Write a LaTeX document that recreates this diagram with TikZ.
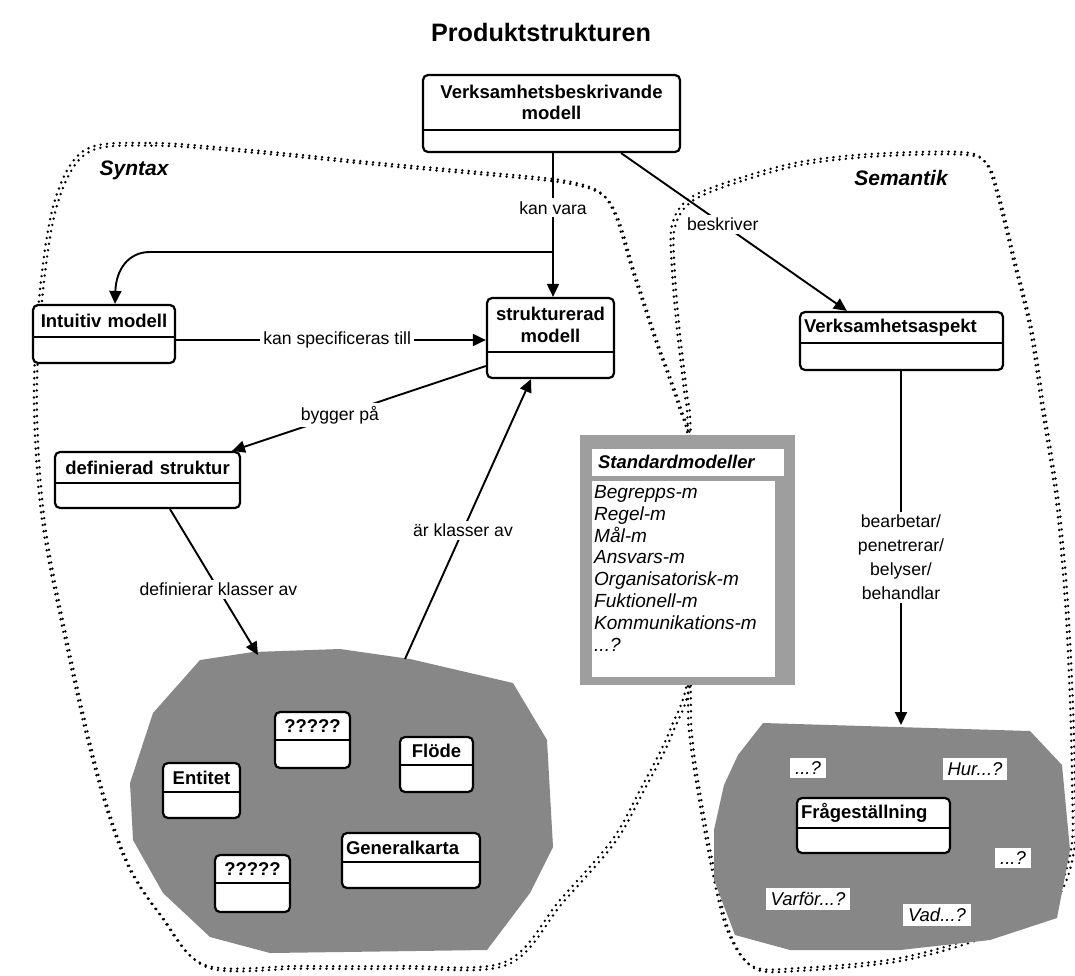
\documentclass[tikz,border=0pt]{standalone}
\usepackage{fontspec}
\setmainfont{Liberation Sans}
\usetikzlibrary{arrows.meta,fit,calc}

\tikzset{
  kbox/.style={draw=black, fill=white, rounded corners=5pt, line width=2.2pt, inner sep=0pt},
  divline/.style={line width=2.5pt},
  ktitle/.style={font=\fontsize{18.5}{21.5}\selectfont\bfseries, inner sep=0pt},
  conn/.style={line width=1.9pt, -{Triangle[length=13pt,width=12pt]}},
  lbl/.style={font=\fontsize{17.6}{24}\selectfont, fill=white, inner sep=3pt},
  region/.style={font=\fontsize{21}{24}\selectfont\bfseries\itshape},
  dotline/.style={line width=2.7pt, dash pattern=on 0pt off 6.4pt, line cap=round},
  blob/.style={fill=black!47},
  qlabel/.style={fill=white, font=\fontsize{18.5}{20}\selectfont\itshape, inner xsep=5pt, inner ysep=4pt},
  listtext/.style={font=\fontsize{19}{21.9}\selectfont\itshape, align=left, inner sep=0pt, anchor=north west},
}

% class box: [title alignment]{name}{x1}{y1}{x2}{y2}{divider y}{title}
\newcommand\klass[8][center]{%
  \node[kbox, fit={(#3,#4) (#5,#6)}] (#2) {};
  \draw[divline] (#3,#7) -- (#5,#7);
  \pgfmathsetlengthmacro\klasswidth{#5-#3-8}%
  \node[ktitle, text width=\klasswidth, align=#1] (#2-t) at ({(#3+#5)/2},{(#4+#7)/2}) {#8};
}

\begin{document}
\begin{tikzpicture}[x=1pt,y=-1pt]
\useasboundingbox (0,0) rectangle (1075,975);
\fill[white] (0,0) rectangle (1075,975);

% region outlines (double rows of dots)
\foreach \dx/\dy/\ph in {0/0/0, 2.8/2.6/3.2}{
  \begin{scope}[shift={(\dx,\dy)}, dash phase=\ph pt]
  \draw[dotline] plot[smooth cycle, tension=0.55] coordinates {
    (85,150) (150,143) (250,150) (380,163) (480,172) (560,180) (598,191)
    (615,215) (632,270) (655,340) (678,405) (690,460) (690,660) (670,730)
    (640,790) (612,840) (560,900) (505,962) (400,966) (300,966) (205,965)
    (160,915) (125,860) (95,770) (65,640) (42,520) (34,400) (40,290) (55,200)};
  \draw[dotline] plot[smooth cycle, tension=0.55] coordinates {
    (690,198) (740,178) (800,162) (870,154) (960,152) (985,162) (997,195)
    (1013,260) (1030,330) (1042,410) (1056,500) (1065,600) (1070,700)
    (1072,780) (1071,850) (1050,900) (990,932) (900,958) (800,968)
    (752,966) (727,930) (712,870) (699,800) (690,740) (688,690) (688,440)
    (684,390) (677,330) (672,270) (672,225)};
  \end{scope}
}

% shaded clusters
\fill[blob] (200,660) -- (253,652) -- (340,649) -- (410,659) -- (513,683)
  -- (547,740) -- (553,847) -- (530,893) -- (487,950) -- (270,953)
  -- (210,937) -- (163,893) -- (133,840) -- (130,783) -- (153,713) -- cycle;
\fill[blob] (763,723) -- (1030,731) -- (1062,765) -- (1070,850) -- (1057,918)
  -- (990,940) -- (900,950) -- (790,950) -- (735,935) -- (714,880)
  -- (714,830) -- (724,785) -- (738,755) -- cycle;
\coordinate (synTopA) at (258,655);
\coordinate (synTopB) at (405,659);
\coordinate (semTop) at (901,725);

% standard models frame
\node[fill=black!38, inner sep=0pt, fit={(580,435) (795,685)}] (std) {};
\fill[white] (592,449) rectangle (784,476);
\fill[white] (592,481) rectangle (775,677);
\node[font=\fontsize{18.4}{21}\selectfont\bfseries\itshape, anchor=west, inner sep=0pt]
  (stdt) at (598,462) {Standardmodeller};
\node[listtext] (stdl) at (594,485) {Begrepps-m\\Regel-m\\Mål-m\\Ansvars-m\\Organisatorisk-m\\Fuktionell-m\\Kommunikations-m\\...?};

% title and region names
\node[font=\fontsize{25.2}{28}\selectfont\bfseries] (title) at (541,32) {Produktstrukturen};
\node[region] (syn) at (134,170) {Syntax};
\node[region] (sem) at (901,178) {Semantik};

% class boxes
\klass{vbm}{423}{75}{680}{152}{130}{Verksamhetsbeskrivande\\modell}
\klass{intu}{33}{305}{175}{363}{337}{Intuitiv modell}
\klass{strukt}{487}{298}{614}{378}{352}{strukturerad\\modell}
\klass{defs}{55}{452}{240}{508}{483}{definierad struktur}
\klass[left]{vasp}{800}{312}{1003}{370}{343}{Verksamhetsaspekt}
\klass{qa}{275}{712}{350}{768}{740}{?????}
\klass{flode}{400}{737}{473}{792}{765}{Flöde}
\klass{enti}{163}{763}{240}{818}{792}{Entitet}
\klass[left]{genk}{342}{833}{480}{888}{862}{Generalkarta}
\klass{qb}{215}{855}{290}{912}{883}{?????}
\klass[left]{fraga}{797}{798}{950}{853}{828}{Frågeställning}

% connectors
\draw[conn] (vbm.south -| 553,0) -- node[lbl, pos=0.38] (lkv) {kan vara} (strukt.north -| 553,0);
\coordinate (br) at (553,252);
\draw[conn] (br) -- (150,252) .. controls (128,252) and (116,270) .. (intu.north -| 115,0);
\draw[conn] (intu.east |- 0,340) -- node[lbl, pos=0.52] (lks) {kan specificeras till} (strukt.west |- 0,340);
\draw[conn] (strukt.west |- 0,366) -- node[lbl, pos=0.575] (lbp) {bygger på} (defs.north -| 232,0);
\draw[conn] (defs.south -| 170,0) -- node[lbl, pos=0.55] (ldk) {definierar klasser av} (synTopA);
\draw[conn] (synTopB) -- node[lbl, pos=0.46] (lka) {är klasser av} (strukt.south -| 531,0);
\draw[conn] ([xshift=-60pt]vbm.south east) -- node[lbl, pos=0.45] (lbs) {beskriver} ([xshift=48pt]vasp.north west);
\draw[conn] (vasp.south -| 901,0) -- node[lbl, pos=0.527, align=center] (lbb) {bearbetar/\\penetrerar/\\belyser/\\behandlar} (semTop);

% question labels
\node[qlabel] (q1) at (808,768) {...?};
\node[qlabel] (q2) at (975,769) {Hur...?};
\node[qlabel] (q3) at (1013,858) {...?};
\node[qlabel] (q4) at (808,899) {Varför...?};
\node[qlabel] (q5) at (937,915) {Vad...?};
\end{tikzpicture}
\end{document}
